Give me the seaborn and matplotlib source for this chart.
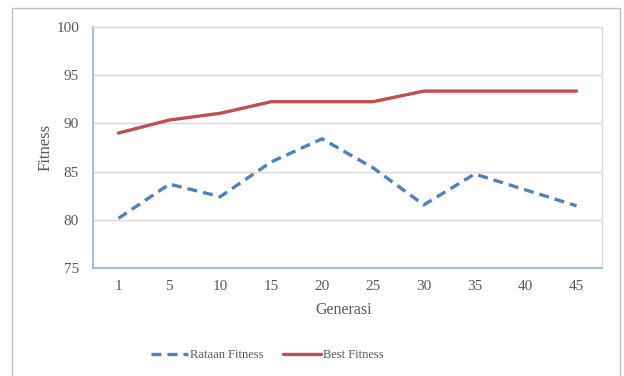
import matplotlib
matplotlib.use("Agg")
import matplotlib.pyplot as plt
import pandas as pd
import seaborn as sns
from matplotlib.patches import Rectangle

generasi = ["1", "5", "10", "15", "20", "25", "30", "35", "40", "45"]
rataan_fitness = [80.15, 83.7, 82.4, 86.0, 88.4, 85.4, 81.55, 84.75, 83.1, 81.45]
best_fitness = [89.0, 90.35, 91.05, 92.25, 92.25, 92.25, 93.35, 93.35, 93.35, 93.35]

df = pd.DataFrame({
    "Generasi": generasi * 2,
    "Fitness": rataan_fitness + best_fitness,
    "Seri": ["Rataan Fitness"] * len(generasi) + ["Best Fitness"] * len(generasi),
})

sns.set_style("white")
plt.rcParams["font.family"] = ["Liberation Serif", "DejaVu Serif"]
text_col = "#595959"

fig = plt.figure(figsize=(6.24, 3.76), dpi=100)
ax = fig.add_axes([93 / 624, 1 - 268 / 376, (602 - 93) / 624, (268 - 27) / 376])

palette = {"Rataan Fitness": "#4F81BD", "Best Fitness": "#C0504D"}
sns.lineplot(
    data=df, x="Generasi", y="Fitness", hue="Seri", style="Seri",
    palette=palette, dashes={"Rataan Fitness": (3, 1.8), "Best Fitness": ""},
    linewidth=2.4, sort=False, ax=ax, legend=True,
)

ax.set_xlim(-0.5, len(generasi) - 0.5)
ax.set_ylim(75, 100)
ax.set_yticks([75, 80, 85, 90, 95, 100])
ax.yaxis.grid(True, color="#D9D9D9", linewidth=1)
ax.set_axisbelow(True)
for side in ["top", "right"]:
    ax.spines[side].set_color("#D9D9D9")
    ax.spines[side].set_linewidth(1)
for side in ["left", "bottom"]:
    ax.spines[side].set_color("#8EB4E3")
    ax.spines[side].set_linewidth(1.2)
ax.tick_params(axis="both", length=0, labelsize=11, labelcolor=text_col, pad=9)
ax.tick_params(axis="y", pad=10)
ax.set_xlabel("Generasi", fontsize=11.5, color=text_col)
ax.set_ylabel("Fitness", fontsize=12, color=text_col)
ax.xaxis.set_label_coords((344 - 93) / 509, (268 - 302) / 241)
ax.yaxis.set_label_coords((54 - 93) / 509, 0.5)

handles, labels = ax.get_legend_handles_labels()
leg = ax.legend(handles, labels, loc="center", bbox_to_anchor=((267 - 93) / 509, (268 - 355) / 241),
                ncol=2, frameon=False, fontsize=9, handlelength=3.0,
                handletextpad=0.15, columnspacing=1.6)
for t in leg.get_texts():
    t.set_color(text_col)

fig.patches.append(Rectangle((12 / 624, -0.05), (620 - 12) / 624, 1 - 8 / 376 + 0.05,
                             transform=fig.transFigure, fill=False,
                             edgecolor="#BFBFBF", linewidth=1))

fig.savefig("out.png", dpi=100)
